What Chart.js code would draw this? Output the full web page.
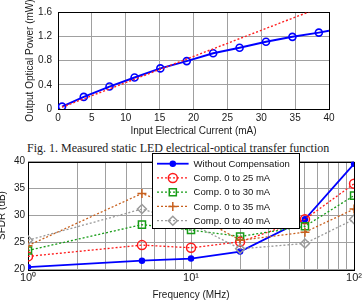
<!DOCTYPE html>
<html>
<head>
<meta charset="utf-8">
<script src="https://cdn.jsdelivr.net/npm/chart.js@4.4.1/dist/chart.umd.min.js"></script>
<style>
  html, body { margin: 0; padding: 0; background: #fff; }
  body { width: 364px; height: 303px; position: relative; overflow: hidden; }
  #topBox { position: absolute; left: 0; top: 0; width: 364px; height: 140px; }
  #bottomBox { position: absolute; left: -4px; top: 152px; width: 368px; height: 151px; }
  #caption {
    position: absolute; left: 27px; top: 141px; line-height: 12px;
    font: normal 12px 'Liberation Serif', 'Times New Roman', serif; color: #222; white-space: nowrap;
  }
</style>
</head>
<body>
<div id="topBox"><canvas id="ledChart"></canvas></div>
<div id="caption">Fig. 1. Measured static LED electrical-optical transfer function</div>
<div id="bottomBox"><canvas id="sfdrChart"></canvas></div>
<script>
// ── Data: LED transfer function ─────────────────────────────
const currentMA  = [0.6, 3.8, 7.6, 11.3, 15.1, 19.0, 22.9, 26.8, 30.7, 34.6, 38.5, 40];
const powerMW    = [0.04, 0.20, 0.37, 0.52, 0.67, 0.79, 0.92, 1.01, 1.11, 1.19, 1.26, 1.29];
const fitCurrent = [0.6, 40];
const fitPower   = [0.03, 1.73];
const currentTicks = [0, 5, 10, 15, 20, 25, 30, 35, 40];
const powerTicks   = [0, 0.4, 0.8, 1.2, 1.6];

// ── Data: SFDR vs frequency ─────────────────────────────────
const freqMHz  = [1, 5, 10, 20, 50, 100];
const sfdrNone = [20.4, 21.6, 22.0, 23.3, 29.3, 39.6];
const sfdr25   = [22.4, 24.5, 24.0, 25.1, 29.3, 35.9];
const sfdr30   = [23.5, 28.3, 27.3, 26.1, 28.0, 33.7];
const sfdr35   = [24.4, 34.1, 30.5, 25.4, 26.9, 31.2];
const sfdr40   = [25.4, 31.2, 28.5, 23.8, 24.8, 29.3];
const seriesNames = ['Without Compensation', 'Comp. 0 to 25 mA', 'Comp. 0 to 30 mA',
                     'Comp. 0 to 35 mA', 'Comp. 0 to 40 mA'];
const freqTicks  = [1, 2, 3, 4, 5, 6, 7, 8, 9, 10, 20, 30, 40, 50, 60, 70, 80, 90, 100];
const freqLabels = { 1: '10\u2070', 10: '10\u00B9', 100: '10\u00B2' };
const sfdrTicks  = [20, 25, 30, 35, 40];

Chart.defaults.font.family = "'Liberation Sans', Arial, sans-serif";
Chart.defaults.font.size = 10;
Chart.defaults.color = '#1a1a1a';

const GRID = '#a0a0a0';
const pts = (xs, ys) => xs.map((x, i) => ({ x, y: ys[i] }));
const setTicks = list => scale => { scale.ticks = list.map(v => ({ value: v })); };

// black box round the plot area, drawn under the data
const frame = {
  id: 'frame',
  beforeDatasetsDraw(chart) {
    const { ctx, chartArea: a } = chart;
    ctx.save();
    ctx.strokeStyle = '#000';
    ctx.lineWidth = 1;
    ctx.strokeRect(Math.round(a.left) + 0.5, Math.round(a.top) + 0.5,
                   Math.round(a.right - a.left), Math.round(a.bottom - a.top));
    ctx.restore();
  }
};

// ── Top chart ───────────────────────────────────────────────
new Chart(document.getElementById('ledChart'), {
  type: 'scatter',
  data: {
    datasets: [
      {
        data: pts(currentMA, powerMW),
        showLine: true,
        borderColor: '#0000ff',
        borderWidth: 2,
        pointStyle: 'circle',
        pointRadius: currentMA.map((x, i) => i === currentMA.length - 1 ? 0 : 3.5),
        pointBorderWidth: 1.6,
        pointBorderColor: '#0000ff',
        pointBackgroundColor: 'rgba(0,0,0,0)',
        order: 1,
      },
      {
        data: pts(fitCurrent, fitPower),
        showLine: true,
        borderColor: '#ff2020',
        borderWidth: 1.4,
        borderDash: [2, 2],
        pointRadius: 0,
        order: 0,
      },
    ],
  },
  options: {
    responsive: true,
    maintainAspectRatio: false,
    animation: false,
    layout: { padding: { top: 12, right: 35, left: 0, bottom: 0 } },
    scales: {
      x: {
        type: 'linear', min: 0, max: 40,
        afterBuildTicks: setTicks(currentTicks),
        afterFit: s => { s.height = 31; },
        ticks: { padding: 3, maxRotation: 0, autoSkip: false },
        grid: { color: GRID, drawTicks: false },
        border: { display: false },
        title: { display: true, text: 'Input Electrical Current (mA)', padding: { top: 0, bottom: 3 } },
      },
      y: {
        min: 0, max: 1.6,
        afterBuildTicks: setTicks(powerTicks),
        afterFit: s => { s.width = 58; },
        ticks: { padding: 6, callback: v => v === 0 ? '0' : v.toFixed(1) },
        grid: { color: GRID, drawTicks: false },
        border: { display: false },
        title: { display: true, text: 'Output Optical Power (mW)', padding: { top: 24, bottom: 0 } },
      },
    },
    plugins: { legend: { display: false }, tooltip: { enabled: false } },
  },
  plugins: [frame],
});

// ── Bottom chart ────────────────────────────────────────────
const styles = [
  { color: '#0000ff', width: 1.8, dash: [],     point: 'circle',  r: 2.5, fill: '#0000ff' },
  { color: '#ff1a1a', width: 1.3, dash: [2, 2], point: 'circle',  r: 4.5, fill: 'rgba(0,0,0,0)' },
  { color: '#179c17', width: 1.3, dash: [2, 2], point: 'rect',    r: 5,   fill: 'rgba(0,0,0,0)' },
  { color: '#c8601e', width: 1.3, dash: [2, 2], point: 'cross',   r: 4.5, fill: 'rgba(0,0,0,0)' },
  { color: '#9a9a9a', width: 1.3, dash: [2, 2], point: 'rectRot', r: 4.5, fill: 'rgba(0,0,0,0)' },
];
const sfdrSeries = [sfdrNone, sfdr25, sfdr30, sfdr35, sfdr40];

const boxLegend = {
  id: 'boxLegend',
  afterDraw(chart) {
    const { ctx, chartArea: a } = chart;
    const x0 = Math.round(a.left + 123.7), y0 = Math.round(a.top - 8.4);
    const w = 147, h = 75, rowH = 14.25;
    ctx.save();
    ctx.fillStyle = '#fff';
    ctx.fillRect(x0, y0, w, h);
    ctx.strokeStyle = '#000';
    ctx.lineWidth = 1;
    ctx.strokeRect(x0 + 0.5, y0 + 0.5, w, h);
    chart.data.datasets.forEach((ds, i) => {
      const y = y0 + 10.7 + i * rowH;
      ctx.strokeStyle = ds.borderColor;
      ctx.lineWidth = ds.borderWidth;
      ctx.setLineDash(ds.borderDash || []);
      ctx.beginPath();
      ctx.moveTo(x0 + 5, y);
      ctx.lineTo(x0 + 36.6, y);
      ctx.stroke();
      ctx.setLineDash([]);
      ctx.fillStyle = ds.pointBackgroundColor;
      ctx.lineWidth = ds.pointBorderWidth;
      Chart.helpers.drawPoint(ctx, {
        pointStyle: ds.pointStyle, radius: ds.pointRadius,
        borderWidth: ds.pointBorderWidth, rotation: 0,
      }, x0 + 20.8, y);
      ctx.fillStyle = '#111';
      ctx.font = "9.5px 'Liberation Sans', Arial, sans-serif";
      ctx.textAlign = 'left';
      ctx.textBaseline = 'middle';
      ctx.fillText(ds.label, x0 + 41.6, y + 0.5);
    });
    ctx.restore();
  }
};

new Chart(document.getElementById('sfdrChart'), {
  type: 'scatter',
  data: {
    datasets: sfdrSeries.map((vals, i) => ({
      label: seriesNames[i],
      data: pts(freqMHz, vals),
      showLine: true,
      borderColor: styles[i].color,
      borderWidth: styles[i].width,
      borderDash: styles[i].dash,
      pointStyle: styles[i].point,
      pointRadius: styles[i].r,
      pointBorderWidth: 1.5,
      pointBorderColor: styles[i].color,
      pointBackgroundColor: styles[i].fill,
      order: 5 - i,
    })),
  },
  options: {
    responsive: true,
    maintainAspectRatio: false,
    animation: false,
    layout: { padding: { top: 9.7, right: 8.7, left: 0, bottom: 0 } },
    scales: {
      x: {
        type: 'logarithmic', min: 1, max: 100,
        afterBuildTicks: setTicks(freqTicks),
        afterFit: s => { s.height = 33.7; },
        ticks: { padding: 2, maxRotation: 0, autoSkip: false,
                 font: { size: 11 },
                 callback: v => freqLabels[v] || '' },
        grid: { color: GRID, drawTicks: false },
        border: { display: false },
        title: { display: true, text: 'Frequency (MHz)', padding: { top: 0, bottom: 2 } },
      },
      y: {
        min: 20, max: 40,
        afterBuildTicks: setTicks(sfdrTicks),
        afterFit: s => { s.width = 32; },
        ticks: { padding: 3 },
        grid: { color: GRID, drawTicks: false },
        border: { display: false },
        title: { display: true, text: 'SFDR (dB)', padding: { top: 0.5, bottom: 0 } },
      },
    },
    plugins: { legend: { display: false }, tooltip: { enabled: false } },
  },
  plugins: [frame, boxLegend],
});
</script>
</body>
</html>
